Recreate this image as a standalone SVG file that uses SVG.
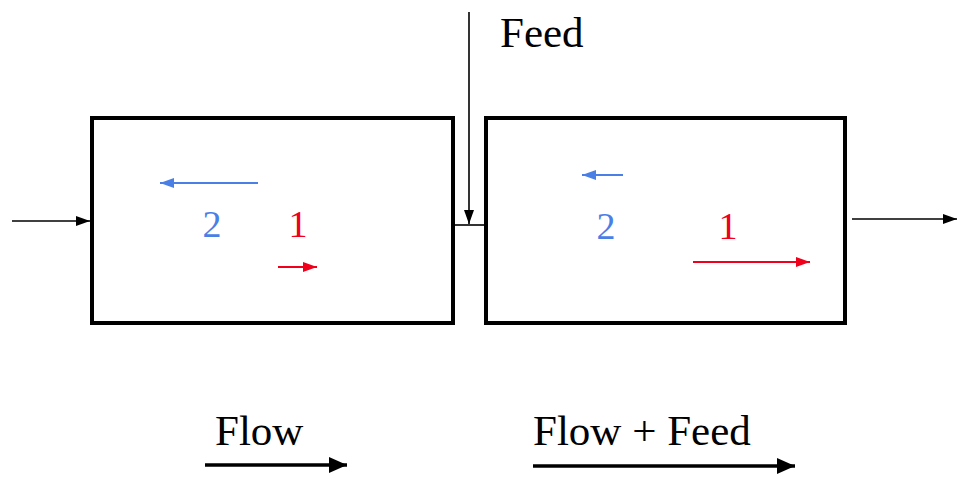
<svg xmlns="http://www.w3.org/2000/svg" width="957" height="479" viewBox="0 0 957 479">
<style>
.box{fill:#fff;stroke:#000;stroke-width:4}
.thin{stroke:#000;stroke-width:1.6;fill:none}
.big{stroke:#000;stroke-width:3.5;fill:none}
.blue{stroke:#4a7fe6;stroke-width:2;fill:none}
.red{stroke:#f0001a;stroke-width:2;fill:none}
</style>
<defs>
<marker id="ab" markerUnits="userSpaceOnUse" viewBox="0 0 14 10" refX="14" refY="5" markerWidth="14" markerHeight="10" orient="auto"><path d="M0,0L14,5L0,10z" fill="#000"/></marker>
<marker id="abig" markerUnits="userSpaceOnUse" viewBox="0 0 18 16" refX="18" refY="8" markerWidth="18" markerHeight="16" orient="auto"><path d="M0,0L18,8L0,16z" fill="#000"/></marker>
<marker id="abl" markerUnits="userSpaceOnUse" viewBox="0 0 14 10" refX="14" refY="5" markerWidth="14" markerHeight="10" orient="auto"><path d="M0,0L14,5L0,10z" fill="#4a7fe6"/></marker>
<marker id="ard" markerUnits="userSpaceOnUse" viewBox="0 0 14 10" refX="14" refY="5" markerWidth="14" markerHeight="10" orient="auto"><path d="M0,0L14,5L0,10z" fill="#f0001a"/></marker>
</defs>
<g id="connectors">
<line class="thin" x1="12" y1="221" x2="90" y2="221" marker-end="url(#ab)"/>
<line class="thin" x1="453" y1="225" x2="485" y2="225"/>
<line class="thin" x1="469" y1="12" x2="469" y2="224" marker-end="url(#ab)"/>
<line class="thin" x1="852" y1="219" x2="957" y2="219" marker-end="url(#ab)"/>
</g>
<g id="box1">
<rect class="box" x="92" y="118" width="361" height="205"/>
<line class="blue" x1="258" y1="183" x2="160" y2="183" marker-end="url(#abl)"/>
<text x="212" y="237" font-family="Liberation Serif, Times New Roman, serif" font-size="38" text-anchor="middle" fill="#4a7fe6">2</text>
<text x="298" y="237" font-family="Liberation Serif, Times New Roman, serif" font-size="38" text-anchor="middle" fill="#f0001a">1</text>
<line class="red" x1="278" y1="267" x2="317" y2="267" marker-end="url(#ard)"/>
</g>
<g id="box2">
<rect class="box" x="486" y="118" width="359" height="205"/>
<line class="blue" x1="623" y1="175" x2="582" y2="175" marker-end="url(#abl)"/>
<text x="606" y="239" font-family="Liberation Serif, Times New Roman, serif" font-size="38" text-anchor="middle" fill="#4a7fe6">2</text>
<text x="728" y="239" font-family="Liberation Serif, Times New Roman, serif" font-size="38" text-anchor="middle" fill="#f0001a">1</text>
<line class="red" x1="693" y1="262" x2="810" y2="262" marker-end="url(#ard)"/>
</g>
<g id="feed-label">
<text x="500" y="47" font-family="Liberation Serif, Times New Roman, serif" font-size="43">Feed</text>
</g>
<g id="flow">
<text x="215" y="445" font-family="Liberation Serif, Times New Roman, serif" font-size="43">Flow</text>
<line class="big" x1="205" y1="465" x2="347" y2="465" marker-end="url(#abig)"/>
</g>
<g id="flow-feed">
<text x="533" y="445" font-family="Liberation Serif, Times New Roman, serif" font-size="43">Flow + Feed</text>
<line class="big" x1="533" y1="466" x2="795" y2="466" marker-end="url(#abig)"/>
</g>
</svg>
